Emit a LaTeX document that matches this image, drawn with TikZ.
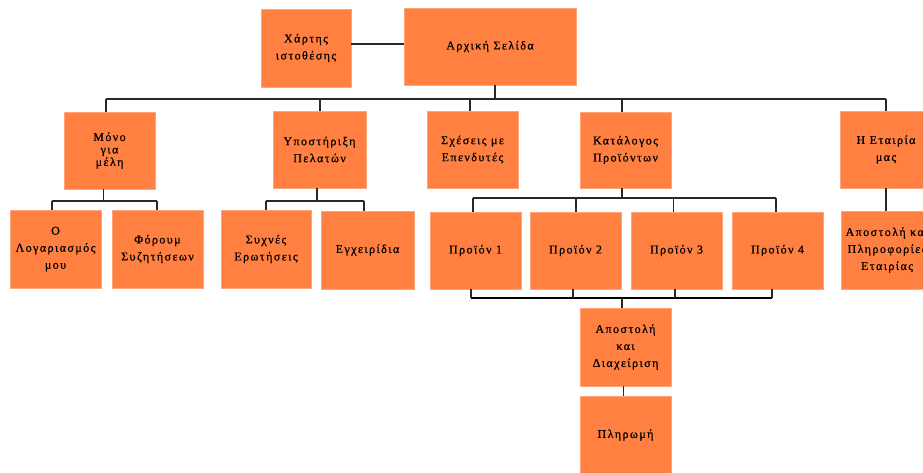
\documentclass[tikz,border=0pt]{standalone}
\usepackage{fontspec}
\setmainfont{Liberation Serif}[LetterSpace=12, FakeBold=0.6]
\definecolor{boxorange}{RGB}{255,128,64}
\definecolor{linegray}{RGB}{40,40,40}
\begin{document}
\begin{tikzpicture}[x=1pt,y=-1pt,
  box/.style={fill=boxorange, draw=boxorange!70!white, line width=0.5pt,
    minimum width=91pt, minimum height=77pt, inner sep=0pt,
    align=center, font=\fontsize{12}{17}\selectfont},
  tight/.style={font=\fontsize{12}{12.5}\selectfont},
  wire/.style={draw=linegray, line width=1.2pt},
  thickwire/.style={draw=black, line width=2pt}]
\useasboundingbox (0,0) rectangle (923,472);
\fill[white] (0,0) rectangle (923,472);
\clip (0,0) rectangle (923,472);

% top level
\node[box, minimum width=90pt, minimum height=78pt] (map) at (306,48) {Χάρτης\\ιστοθέσης};
\node[box, minimum width=172pt] (home) at (490,46.5) {Αρχική Σελίδα};

% second level
\node[box, tight] (members) at (109.5,150.5) {Μόνο\\για\\μέλη};
\node[box, minimum width=93pt] (support) at (319.5,149.5) {Υποστήριξη\\Πελατών};
\node[box] (investors) at (472.5,149.5) {Σχέσεις με\\Επενδυτές};
\node[box, minimum height=76pt] (catalog) at (625.5,150) {Κατάλογος\\Προϊόντων};
\node[box, minimum width=92pt] (company) at (886,149.5) {Η Εταιρία\\μας};

% third level
\node[box, minimum height=78pt] (account) at (55.5,249) {Ο\\Λογαριασμός\\μου};
\node[box, minimum height=78pt] (forum) at (157.5,249) {Φόρουμ\\Συζητήσεων};
\node[box, minimum width=90pt, minimum height=78pt] (faq) at (266,249) {Συχνές\\Ερωτήσεις};
\node[box, minimum width=93pt, minimum height=78pt] (manuals) at (367.5,250) {Εγχειρίδια};
\node[box] (p1) at (475.5,250.5) {Προϊόν 1};
\node[box] (p2) at (575.5,250.5) {Προϊόν 2};
\node[box] (p3) at (676.5,250.5) {Προϊόν 3};
\node[box] (p4) at (777.5,250.5) {Προϊόν 4};
\node[box, minimum width=92pt, minimum height=78pt] (mission) at (887,250) {Αποστολή και\\Πληροφορίες\\Εταιρίας};

% order flow
\node[box, minimum height=78pt] (shipping) at (625.5,347) {Αποστολή\\και\\Διαχείριση};
\node[box, minimum height=78pt] (payment) at (625.5,435) {Πληρωμή};

% bus lines
\coordinate (busA) at (0,99);
\coordinate (busB) at (0,201);
\coordinate (busC) at (0,198);
\coordinate (busD) at (0,298);

% home page and site map
\draw[wire] ([yshift=4pt]map.east) -- ([yshift=4pt]map.east -| home.west);
\draw[wire] ([xshift=5pt]home.south) -- ([xshift=5pt]home.south |- busA);
\draw[wire] ([xshift=-3.5pt]members.north |- busA) -- (company.north |- busA);
\foreach \n/\d in {members/-3.5, support/0.5, investors/-2.5, catalog/-3.5, company/0}
  \draw[wire] ([xshift=\d pt]\n.north) -- ([xshift=\d pt]\n.north |- busA);

% members area
\draw[wire] ([xshift=-6pt]members.south) -- ([xshift=-6pt]members.south |- busB);
\draw[wire] ([xshift=-3.5pt]account.north |- busB) -- ([xshift=-0.5pt]forum.north |- busB);
\draw[wire] ([xshift=-3.5pt]account.north) -- ([xshift=-3.5pt]account.north |- busB);
\draw[wire] ([xshift=-0.5pt]forum.north) -- ([xshift=-0.5pt]forum.north |- busB);

% support area
\draw[wire] ([xshift=-2.5pt]support.south) -- ([xshift=-2.5pt]support.south |- busB);
\draw[wire] (faq.north |- busB) -- ([xshift=-3.5pt]manuals.north |- busB);
\draw[wire] (faq.north) -- (faq.north |- busB);
\draw[wire, line width=1.8pt] ([xshift=-3.5pt]manuals.north) -- ([xshift=-3.5pt]manuals.north |- busB);

% catalog area
\draw[wire] ([xshift=-3.5pt]catalog.south) -- ([xshift=-3.5pt]catalog.south |- busC);
\draw[wire] ([xshift=-2.5pt]p1.north |- busC) -- ([xshift=-1.5pt]p4.north |- busC);
\foreach \n/\d in {p1/-2.5, p2/0.5, p3/-3, p4/-1.5}
  \draw[wire] ([xshift=\d pt]\n.north) -- ([xshift=\d pt]\n.north |- busC);

% products to shipping
\draw[thickwire] ([xshift=-4.5pt]p1.south |- busD) -- ([xshift=-5.5pt]p4.south |- busD);
\foreach \n/\d in {p1/-4.5, p2/-2.5, p3/-1.5, p4/-5.5}
  \draw[wire] ([xshift=\d pt]\n.south) -- ([xshift=\d pt]\n.south |- busD);
\draw[wire] ([xshift=-3.5pt]shipping.north) -- ([xshift=-3.5pt]shipping.north |- busD);
\draw[wire] ([xshift=-2pt]shipping.south) -- ([xshift=-2pt]payment.north);

% company area
\draw[wire] (company.south) -- (company.south |- mission.north);
\end{tikzpicture}
\end{document}
